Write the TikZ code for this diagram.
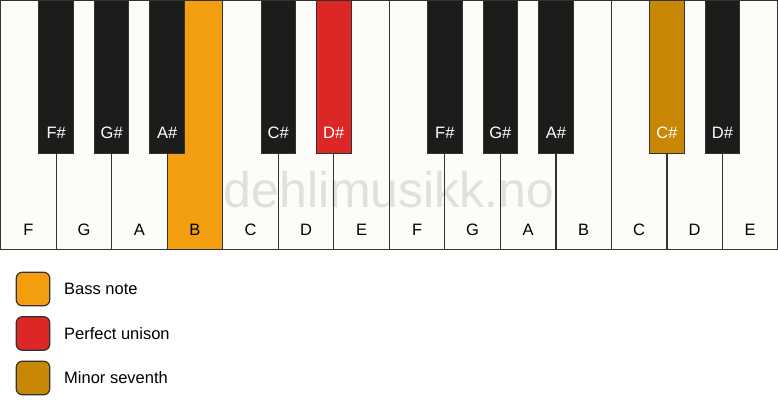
\documentclass[tikz,border=0pt]{standalone}
\usepackage{fontspec}
\setmainfont{Liberation Sans}
\definecolor{keywhite}{RGB}{253,252,248}
\definecolor{keyblack}{RGB}{28,28,26}
\definecolor{keyline}{RGB}{50,50,48}
\definecolor{bassorange}{RGB}{243,158,14}
\definecolor{unisonred}{RGB}{221,38,38}
\definecolor{seventhgold}{RGB}{200,136,6}
\definecolor{wmgray}{RGB}{224,224,222}
\tikzset{
  whitekey/.style={rectangle, fill=keywhite, draw=keyline, line width=1.3pt, minimum width=55.52pt, minimum height=249pt, anchor=north west, inner sep=0pt, outer sep=0pt},
  blackkey/.style={rectangle, fill=keyblack, draw=keyline, line width=1pt, minimum width=34.5pt, minimum height=153pt, anchor=north, inner sep=0pt, outer sep=0pt},
  wlabel/.style={font=\fontsize{16.5}{16.5}\selectfont, text=black, anchor=base},
  blabel/.style={font=\fontsize{16.5}{16.5}\selectfont, text=white, anchor=base},
  legbox/.style={rectangle, rounded corners=6pt, draw=keyline, line width=1.2pt, minimum width=33.5pt, minimum height=33.5pt, inner sep=0pt},
  legtext/.style={font=\fontsize{16.5}{16.5}\selectfont, anchor=west, inner sep=0pt}
}
\begin{document}
\begin{tikzpicture}[x=1pt,y=-1pt]
\useasboundingbox (0,0) rectangle (778,417);
\fill[white] (0,0) rectangle (778,417);
% white keys
\foreach \n/\i/\c in {F/0/keywhite,G/1/keywhite,A/2/keywhite,B/3/bassorange,C/4/keywhite,D/5/keywhite,E/6/keywhite,
  F2/7/keywhite,G2/8/keywhite,A2/9/keywhite,B2/10/keywhite,C2/11/keywhite,D2/12/keywhite,E2/13/keywhite}{
  \node[whitekey, fill=\c] (w\n) at ({0.65+\i*55.52},0.65) {};
}
% watermark
\node[font=\fontsize{50}{50}\selectfont, text=wmgray, anchor=base] (wm) at (389,207.5) {dehlimusikk.no};
% redraw key borders over watermark
\foreach \n in {F,G,A,B,C,D,E,F2,G2,A2,B2,C2,D2,E2}{
  \draw[keyline, line width=1.3pt] (w\n.north west) rectangle (w\n.south east);
}
% white labels
\foreach \n/\t in {F/F,G/G,A/A,B/B,C/C,D/D,E/E,F2/F,G2/G,A2/A,B2/B,C2/C,D2/D,E2/E}{
  \node[wlabel] (l\n) at (w\n.center |- 0,235.5) {\t};
}
% black keys
\foreach \n/\i/\c/\t in {Fs/1/keyblack/F\#,Gs/2/keyblack/G\#,As/3/keyblack/A\#,Cs/5/keyblack/C\#,Ds/6/unisonred/D\#,
  Fs2/8/keyblack/F\#,Gs2/9/keyblack/G\#,As2/10/keyblack/A\#,Cs2/12/seventhgold/C\#,Ds2/13/keyblack/D\#}{
  \node[blackkey, fill=\c] (b\n) at ({0.65+\i*55.52},0.3) {};
  \node[blabel] (bl\n) at (b\n.center |- 0,139) {\t};
}
% legend
\node[legbox, fill=bassorange] (k1) at (33,289) {};
\node[legtext] (t1) at (64,289) {Bass note};
\node[legbox, fill=unisonred] (k2) at (33,333.5) {};
\node[legtext] (t2) at (64,333.5) {Perfect unison};
\node[legbox, fill=seventhgold] (k3) at (33,378) {};
\node[legtext] (t3) at (64,378) {Minor seventh};
\end{tikzpicture}
\end{document}
